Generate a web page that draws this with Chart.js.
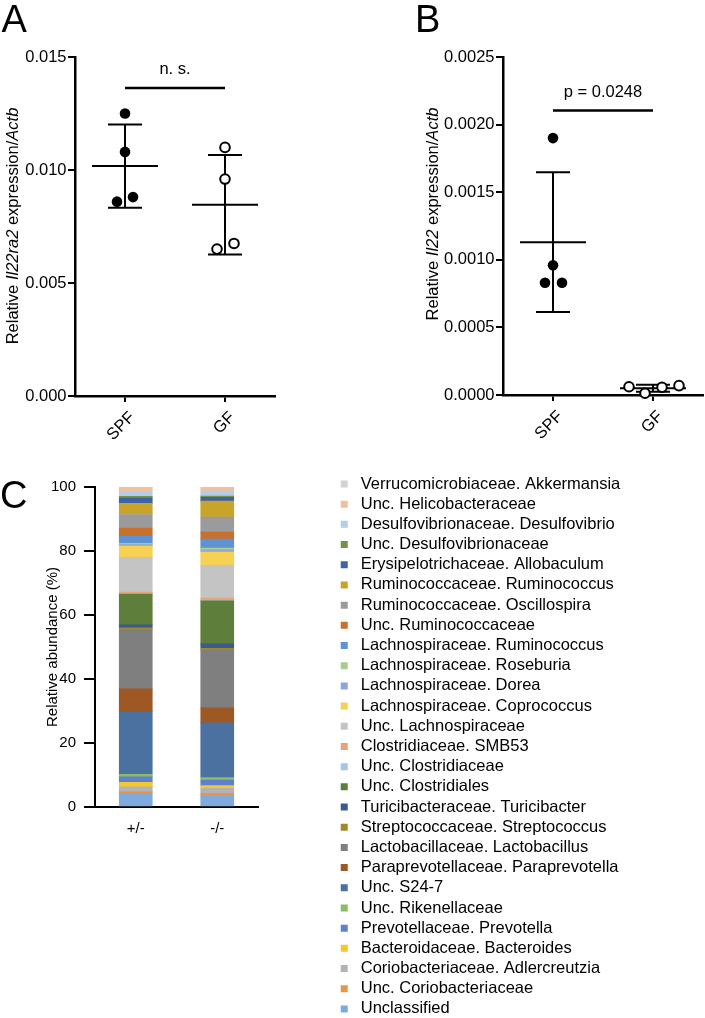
<!DOCTYPE html>
<html>
<head>
<meta charset="utf-8">
<title>Il22ra2 / Il22 expression and faecal microbiota</title>
<script src="https://cdn.jsdelivr.net/npm/chart.js@4.4.0/dist/chart.umd.min.js"></script>
<style>
  html, body { margin: 0; padding: 0; background: #fff; overflow: hidden; }
  body { width: 705px; height: 1018px; position: relative; overflow: hidden; }
  canvas { position: absolute; }
  #chartA { left: 0; top: 0; }
  #chartB { left: 340px; top: 0; }
  #chartC { left: 0; top: 470px; }
</style>
</head>
<body>
<canvas id="chartA" width="300" height="460"></canvas>
<canvas id="chartB" width="380" height="460"></canvas>
<canvas id="chartC" width="705" height="570"></canvas>
<script>
// Panels A and B: qPCR, relative expression normalised to Actb
const groups = ['SPF', 'GF'];

const il22ra2SPF = [0.0125, 0.0108, 0.0086, 0.0088];
const il22ra2GF = [0.0110, 0.0096, 0.0065, 0.00675];
const il22SPF = [0.00190, 0.00096, 0.00083, 0.00083];
const il22GF = [0.000061, 0.000013, 0.000057, 0.000069];

// sideways spread of the dots inside a group (group units)
const jitterA = [[0, 0, -0.08, 0.08], [0, 0, -0.08, 0.09]];
const jitterB = [[0, 0, -0.08, 0.09], [-0.24, -0.08, 0.09, 0.26]];

const yTicksA = [0, 0.005, 0.010, 0.015];
const yTicksB = [0, 0.0005, 0.0010, 0.0015, 0.0020, 0.0025];

const sigA = { y: 0.01363, text: 'n. s.' };
const sigB = { y: 0.002105, text: 'p = 0.0248' };

// Panel C: relative abundance (%), stacked bottom -> top
const genotypes = ['+/-', '-/-'];
const taxa = [
  'Unclassified',
  'Unc. Coriobacteriaceae',
  'Coriobacteriaceae. Adlercreutzia',
  'Bacteroidaceae. Bacteroides',
  'Prevotellaceae. Prevotella',
  'Unc. Rikenellaceae',
  'Unc. S24-7',
  'Paraprevotellaceae. Paraprevotella',
  'Lactobacillaceae. Lactobacillus',
  'Streptococcaceae. Streptococcus',
  'Turicibacteraceae. Turicibacter',
  'Unc. Clostridiales',
  'Unc. Clostridiaceae',
  'Clostridiaceae. SMB53',
  'Unc. Lachnospiraceae',
  'Lachnospiraceae. Coprococcus',
  'Lachnospiraceae. Dorea',
  'Lachnospiraceae. Roseburia',
  'Lachnospiraceae. Ruminococcus',
  'Unc. Ruminococcaceae',
  'Ruminococcaceae. Oscillospira',
  'Ruminococcaceae. Ruminococcus',
  'Erysipelotrichaceae. Allobaculum',
  'Unc. Desulfovibrionaceae',
  'Desulfovibrionaceae. Desulfovibrio',
  'Unc. Helicobacteraceae',
  'Verrucomicrobiaceae. Akkermansia'
];
const taxaColors = [
  '#7eaadd', '#e8954c', '#b3b3b3', '#f2c82e', '#5f80cc', '#8cbc64',
  '#4a71a0', '#9e5823', '#7f7f7f', '#a08a27', '#3d5a8c', '#5e7e3c',
  '#a6c4e6', '#e4a678', '#c4c4c4', '#f7d154', '#8aa6dc', '#a8cd8c',
  '#5d93d2', '#c8712c', '#9b9b9b', '#c9a42a', '#3f62a5', '#709547',
  '#b5cde9', '#eec09b', '#d3d3d3'
];
const hetAbundance = [4.2, 0.6, 1.5, 1.4, 1.7, 0.8, 19.6, 7.1, 18.5, 0.6, 0.9, 9.6, 0.1, 0.6,
  10.8, 3.5, 0.5, 0.4, 2.2, 2.6, 4.2, 3.5, 1.6, 0.6, 1.5, 1.4, 0.0];
const koAbundance = [3.4, 0.9, 1.5, 0.9, 1.7, 0.8, 17.1, 4.7, 18.1, 0.5, 1.4, 13.4, 0.1, 0.8,
  10.2, 4.2, 0.7, 0.5, 2.8, 2.2, 4.7, 5.0, 1.2, 0.4, 1.5, 1.3, 0.0];
const abundanceTicks = [0, 20, 40, 60, 80, 100];

const titleA = [['Relative ', false], ['Il22ra2', true], [' expression/', false], ['Actb', true]];
const titleB = [['Relative ', false], ['Il22', true], [' expression/', false], ['Actb', true]];
const titleC = [['Relative abundance (%)', false]];

const FAMILY = '"Liberation Sans", Arial, Helvetica, sans-serif';
Chart.defaults.font.family = FAMILY;
Chart.defaults.color = '#000';

function mean(vals) {
  return vals.reduce((a, b) => a + b, 0) / vals.length;
}

function sd(vals) {
  const m = mean(vals);
  return Math.sqrt(vals.reduce((a, v) => a + (v - m) * (v - m), 0) / (vals.length - 1));
}

function seg(ctx, x1, y1, x2, y2) {
  ctx.beginPath();
  ctx.moveTo(x1, y1);
  ctx.lineTo(x2, y2);
  ctx.stroke();
}

// vertical axis title, parts can be italic (gene names)
function drawRichVertical(ctx, parts, baseX, centerY, size) {
  ctx.save();
  ctx.translate(baseX, centerY);
  ctx.rotate(-Math.PI / 2);
  const fonts = parts.map(p => (p[1] ? 'italic ' : '') + size + 'px ' + FAMILY);
  let total = 0;
  const widths = parts.map((p, i) => {
    ctx.font = fonts[i];
    const w = ctx.measureText(p[0]).width;
    total += w;
    return w;
  });
  let x = -total / 2;
  ctx.fillStyle = '#000';
  ctx.textAlign = 'left';
  ctx.textBaseline = 'alphabetic';
  parts.forEach((p, i) => {
    ctx.font = fonts[i];
    ctx.fillText(p[0], x, 0);
    x += widths[i];
  });
  ctx.restore();
}

const panelText = {
  id: 'panelText',
  afterDraw(chart, args, opts) {
    const ctx = chart.ctx;
    ctx.save();
    ctx.fillStyle = '#000';
    ctx.font = '38px ' + FAMILY;
    ctx.textAlign = 'left';
    ctx.textBaseline = 'alphabetic';
    ctx.fillText(opts.letter, opts.letterX, opts.letterY);
    ctx.restore();
    drawRichVertical(ctx, opts.title, opts.titleX, opts.titleY, opts.titleSize);
  }
};

// mean +/- SD and the significance bar, drawn under the dots
const meanSd = {
  id: 'meanSd',
  beforeDatasetsDraw(chart, args, opts) {
    const { ctx, scales: { x, y } } = chart;
    ctx.save();
    ctx.strokeStyle = '#000';
    ctx.lineWidth = 2;
    opts.groups.forEach((vals, i) => {
      const m = mean(vals), s = sd(vals);
      const cx = x.getPixelForValue(i);
      const ym = y.getPixelForValue(m);
      const yt = y.getPixelForValue(m + s);
      const yb = y.getPixelForValue(m - s);
      seg(ctx, x.getPixelForValue(i - 0.33), ym, x.getPixelForValue(i + 0.33), ym);
      seg(ctx, cx, yt, cx, yb);
      seg(ctx, x.getPixelForValue(i - 0.17), yt, x.getPixelForValue(i + 0.17), yt);
      seg(ctx, x.getPixelForValue(i - 0.17), yb, x.getPixelForValue(i + 0.17), yb);
    });
    const sy = y.getPixelForValue(opts.sig.y);
    ctx.lineWidth = 2.5;
    seg(ctx, x.getPixelForValue(0), sy, x.getPixelForValue(1), sy);
    ctx.fillStyle = '#000';
    ctx.font = '16.5px ' + FAMILY;
    ctx.textAlign = 'center';
    ctx.textBaseline = 'alphabetic';
    ctx.fillText(opts.sig.text, x.getPixelForValue(0.5), sy - 13.5);
    ctx.restore();
  }
};

function dots(values, jitter, group, filled) {
  return {
    data: values.map((v, k) => ({ x: group + jitter[k], y: v })),
    pointRadius: filled ? 5.3 : 4.8,
    pointBackgroundColor: filled ? '#000' : '#fff',
    pointBorderColor: '#000',
    pointBorderWidth: filled ? 0 : 2,
    showLine: false,
    clip: false
  };
}

function dotPlot(canvasId, spf, gf, jitter, yTicks, decimals, sig, pad, yWidth, xHeight, text) {
  return new Chart(document.getElementById(canvasId), {
    type: 'scatter',
    data: {
      datasets: [dots(spf, jitter[0], 0, true), dots(gf, jitter[1], 1, false)]
    },
    options: {
      responsive: false,
      animation: false,
      events: [],
      layout: { padding: pad },
      scales: {
        x: {
          type: 'linear',
          min: -0.5,
          max: 1.5,
          afterBuildTicks: s => { s.ticks = groups.map((g, i) => ({ value: i })); },
          afterFit: s => { s.height = xHeight; },
          grid: { drawOnChartArea: false, drawTicks: true, tickLength: 6, color: '#000', lineWidth: 2 },
          border: { color: '#000', width: 2.5 },
          ticks: {
            callback: v => groups[v],
            minRotation: 45,
            maxRotation: 45,
            padding: 6,
            labelOffset: 7.5,
            font: { size: 16.5 }
          }
        },
        y: {
          min: yTicks[0],
          max: yTicks[yTicks.length - 1],
          afterBuildTicks: s => { s.ticks = yTicks.map(v => ({ value: v })); },
          afterFit: s => { s.width = yWidth; },
          grid: { drawOnChartArea: false, drawTicks: true, tickLength: 7, color: '#000', lineWidth: 2 },
          border: { color: '#000', width: 2.5 },
          ticks: {
            callback: v => v.toFixed(decimals),
            padding: 1.5,
            font: { size: 16.5 }
          }
        }
      },
      plugins: {
        legend: { display: false },
        tooltip: { enabled: false },
        meanSd: { groups: [spf, gf], sig: sig },
        panelText: text
      }
    },
    plugins: [meanSd, panelText]
  });
}

dotPlot('chartA', il22ra2SPF, il22ra2GF, jitterA, yTicksA, 3, sigA,
  { top: 57, right: 25, left: 0, bottom: 0 }, 75, 64,
  { letter: 'A', letterX: 1.5, letterY: 32, title: titleA, titleX: 17.7, titleY: 226, titleSize: 16.5 });

// canvas B runs past the page edge so the rotated labels do not squeeze the plot
dotPlot('chartB', il22SPF, il22GF, jitterB, yTicksB, 4, sigB,
  { top: 57, right: 17, left: 0, bottom: 0 }, 163, 65,
  { letter: 'B', letterX: 75, letterY: 32, title: titleB, titleX: 98, titleY: 214, titleSize: 16.5 });

// legend is placed freely next to the bars after layout
const legendPlacement = {
  id: 'legendPlacement',
  afterLayout(chart, args, opts) {
    const lg = chart.legend;
    if (!lg) return;
    lg.left = opts.left;
    lg.right = chart.width;
    lg.width = lg.right - lg.left;
    lg.top = opts.top;
    lg.bottom = chart.height;
    lg.height = lg.bottom - lg.top;
  }
};

new Chart(document.getElementById('chartC'), {
  type: 'bar',
  data: {
    labels: genotypes,
    datasets: taxa.map((name, i) => ({
      label: name,
      data: [hetAbundance[i], koAbundance[i]],
      backgroundColor: taxaColors[i],
      borderWidth: 0,
      barThickness: 33
    }))
  },
  options: {
    responsive: false,
    animation: false,
    events: [],
    layout: { padding: { top: 17, right: 427, left: 0, bottom: 0 } },
    scales: {
      x: {
        stacked: true,
        afterFit: s => { s.height = 233; },
        grid: { drawOnChartArea: false, drawTicks: false },
        border: { color: '#000', width: 2 },
        ticks: { padding: 13, font: { size: 15 } }
      },
      y: {
        stacked: true,
        min: abundanceTicks[0],
        max: abundanceTicks[abundanceTicks.length - 1],
        afterBuildTicks: s => { s.ticks = abundanceTicks.map(v => ({ value: v })); },
        afterFit: s => { s.width = 95; },
        grid: { drawOnChartArea: false, drawTicks: true, tickLength: 11, color: '#000', lineWidth: 2 },
        border: { color: '#000', width: 2 },
        ticks: { padding: 8, font: { size: 15 } }
      }
    },
    plugins: {
      legend: {
        position: 'right',
        align: 'start',
        reverse: true,
        maxWidth: 20,
        labels: {
          usePointStyle: true,
          pointStyle: 'rect',
          boxWidth: 16.5,
          boxHeight: 7,
          padding: 3.69,
          color: '#000',
          font: { size: 16.5 }
        }
      },
      tooltip: { enabled: false },
      legendPlacement: { left: 332.3, top: 2.05 },
      panelText: { letter: 'C', letterX: 0, letterY: 38, title: titleC, titleX: 57, titleY: 177, titleSize: 15 }
    }
  },
  plugins: [legendPlacement, panelText]
});
</script>
</body>
</html>
